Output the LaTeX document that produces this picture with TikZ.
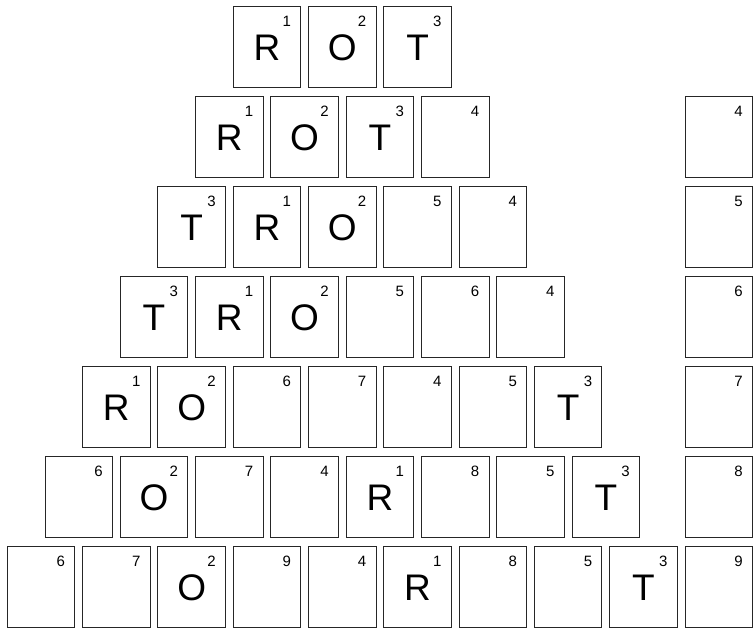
\documentclass[tikz,border=0pt]{standalone}
\usepackage{fontspec}
\setmainfont{Liberation Sans}
\tikzset{
  tile/.style={draw=black!85, line width=0.9pt, minimum width=67.5pt, minimum height=81.5pt,
    inner sep=0pt, text height=26.5pt, text depth=0pt, font=\fontsize{37}{37}\selectfont},
  num/.style={inner sep=0pt, anchor=north east, font=\fontsize{15}{15}\selectfont}
}
\begin{document}
\begin{tikzpicture}[x=1pt,y=1pt]
\useasboundingbox (0,0) rectangle (755,-633);
\foreach \r/\lst in {
  1/{R/1,O/2,T/3},
  2/{R/1,O/2,T/3,{}/4},
  3/{T/3,R/1,O/2,{}/5,{}/4},
  4/{T/3,R/1,O/2,{}/5,{}/6,{}/4},
  5/{R/1,O/2,{}/6,{}/7,{}/4,{}/5,T/3},
  6/{{}/6,O/2,{}/7,{}/4,R/1,{}/8,{}/5,T/3},
  7/{{}/6,{}/7,O/2,{}/9,{}/4,R/1,{}/8,{}/5,T/3}} {
  \foreach [count=\k] \l/\n in \lst {
    \node[tile] (b\r-\k) at ({41.05+(7-\r)*37.65+(\k-1)*75.3}, {-(46.75+(\r-1)*90)}) {\l};
    \node[num] (n\r-\k) at ([xshift=-10pt,yshift=-10pt]b\r-\k.north east) {\n};
  }
}
\foreach \r/\n in {2/4,3/5,4/6,5/7,6/8,7/9} {
  \node[tile] (c\r) at (718.8, {-(46.75+(\r-1)*90)}) {};
  \node[num] (cn\r) at ([xshift=-10pt,yshift=-10pt]c\r.north east) {\n};
}
\end{tikzpicture}
\end{document}
